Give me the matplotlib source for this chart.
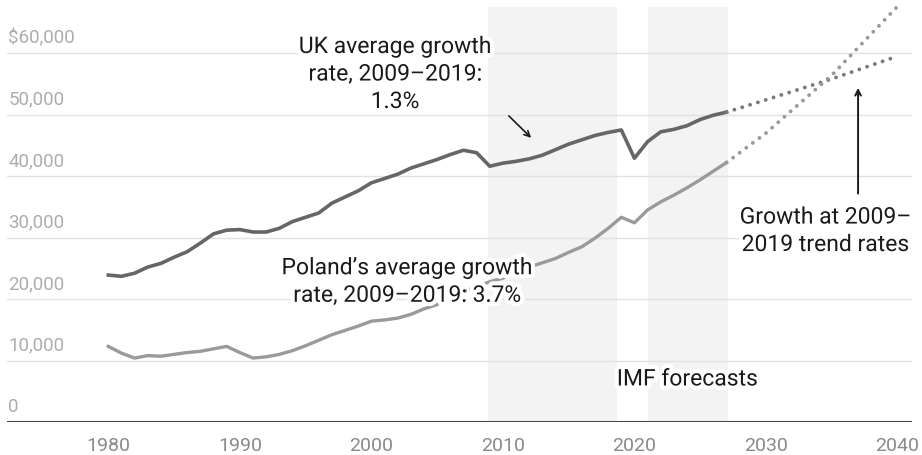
import matplotlib
matplotlib.use('Agg')
import matplotlib.pyplot as plt
import matplotlib.patheffects as pe

plt.rcParams['font.family'] = ['Roboto', 'DejaVu Sans']

# GDP per head (thousands of $)
years = list(range(1980, 2028))
uk = [23.9, 23.7, 24.2, 25.2, 25.8, 26.8, 27.7, 29.1, 30.6, 31.2,
      31.3, 30.9, 30.9, 31.5, 32.6, 33.3, 34.0, 35.6, 36.6, 37.6,
      38.9, 39.6, 40.3, 41.3, 42.0, 42.7, 43.5, 44.2, 43.8, 41.6,
      42.1, 42.4, 42.8, 43.4, 44.3, 45.2, 45.9, 46.6, 47.1, 47.5,
      42.9, 45.6, 47.2, 47.6, 48.2, 49.2, 49.9, 50.4]
poland = [12.3, 11.2, 10.4, 10.8, 10.7, 11.0, 11.3, 11.5, 11.9, 12.3,
          11.3, 10.4, 10.6, 11.0, 11.6, 12.4, 13.3, 14.2, 14.9, 15.6,
          16.4, 16.6, 16.9, 17.5, 18.4, 19.1, 20.3, 21.2, 22.0, 22.8,
          23.4, 24.5, 25.2, 25.9, 26.6, 27.6, 28.5, 29.9, 31.5, 33.3,
          32.4, 34.5, 35.8, 36.9, 38.1, 39.4, 40.8, 42.2]

# trend projections
proj_years = [2027, 2030, 2035, 2040]
uk_proj = [50.4, 52.4, 55.8, 59.5]
poland_proj = [42.2, 47.0, 56.4, 67.6]

shade_spans = [(2008.9, 2018.7), (2021.0, 2027.1)]
y_ticks = [0, 10, 20, 30, 40, 50, 60]
y_labels = ['0', '10,000', '20,000', '30,000', '40,000', '50,000', '$60,000']
x_ticks = [1980, 1990, 2000, 2010, 2020, 2030, 2040]

fig = plt.figure(figsize=(9.22, 4.56), dpi=100)
ax = fig.add_axes([7/922, 1 - 423/456, 905/922, 415/456])
ax.set_xlim(1972.3, 2041.1)
ax.set_ylim(0, 67.5)

for a, b in shade_spans:
    ax.axvspan(a, b, color='#f3f3f3', zorder=0, lw=0)

for v in y_ticks[1:]:
    ax.axhline(v, color='#e2e2e2', lw=1, zorder=1)
ax.axhline(0, color='#454545', lw=2.2, zorder=3)

for v, lab in zip(y_ticks, y_labels):
    ax.text(1972.4, v + 1.1, lab, ha='left', va='bottom', fontsize=13.5,
            color='#adadad', zorder=2)

ax.plot(years, uk, color='#666666', lw=2.6, zorder=4, solid_joinstyle='round')
ax.plot(years, poland, color='#9a9a9a', lw=2.4, zorder=4, solid_joinstyle='round')
ax.plot(proj_years, uk_proj, color='#7a7a7a', lw=2.8,
        ls=(0, (0.01, 2.1)), dash_capstyle='round', zorder=4)
ax.plot(proj_years, poland_proj, color='#9a9a9a', lw=2.8,
        ls=(0, (0.01, 2.1)), dash_capstyle='round', zorder=4, clip_on=False)

halo = [pe.withStroke(linewidth=6, foreground='white')]
txt = dict(ha='center', va='center', fontsize=16.5, color='#1a1a1a',
           linespacing=1.25, path_effects=halo, zorder=6)
ax.text(2001.8, 56.6, 'UK average growth\nrate, 2009\u20132019:\n1.3%', **txt)
ax.text(2002.7, 22.85, 'Poland\u2019s average growth\nrate, 2009\u20132019: 3.7%', **txt)
ax.text(2034.5, 31.1, 'Growth at 2009\u2013\n2019 trend rates', **txt)
ax.text(2024.0, 7.0, 'IMF forecasts', **txt)

ax.annotate('', xy=(2012.3, 45.9), xytext=(2010.3, 50.1),
            arrowprops=dict(arrowstyle='->', color='#1a1a1a', lw=1.2), zorder=6)
ax.annotate('', xy=(2037.0, 54.8), xytext=(2037.0, 36.7),
            arrowprops=dict(arrowstyle='->', color='#1a1a1a', lw=1.4), zorder=6)

ax.set_xticks(x_ticks)
ax.set_xticklabels([str(x) for x in x_ticks], fontsize=14, color='#8a8a8a')
ax.tick_params(axis='x', length=0, pad=10)
ax.set_yticks([])
for s in ax.spines.values():
    s.set_visible(False)

fig.savefig('out.png', dpi=100)
